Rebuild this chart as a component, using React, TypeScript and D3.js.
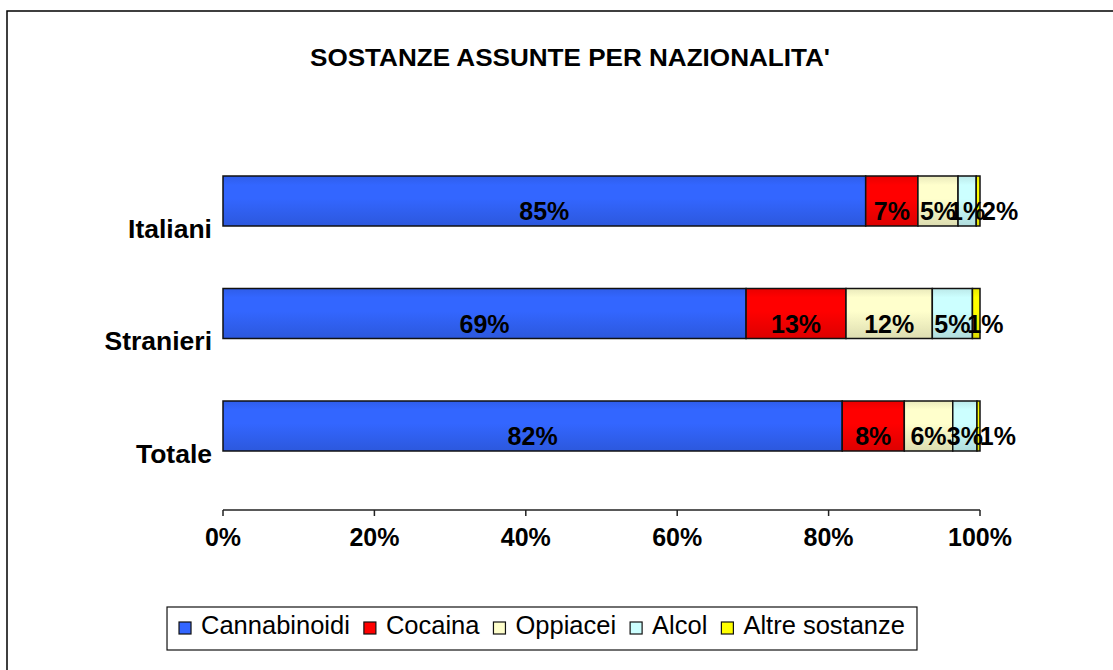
import React, { useEffect, useRef } from "react";
import * as d3 from "d3";

const categories = ["Italiani", "Stranieri", "Totale"];
const seriesNames = ["Cannabinoidi", "Cocaina", "Oppiacei", "Alcol", "Altre sostanze"];
// measured shares (%) per category, same order as seriesNames
const cannabinoidi = [84.9, 69.1, 81.8];
const cocaina = [6.9, 13.2, 8.2];
const oppiacei = [5.3, 11.4, 6.4];
const alcol = [2.4, 5.3, 3.2];
const altre = [0.5, 1.0, 0.4];
// data label texts as printed on the chart
const labelCannabinoidi = ["85%", "69%", "82%"];
const labelCocaina = ["7%", "13%", "8%"];
const labelOppiacei = ["5%", "12%", "6%"];
const labelAlcol = ["1%", "5%", "3%"];
const labelAltre = ["2%", "1%", "1%"];
const xTicks = [0, 20, 40, 60, 80, 100];
const title = "SOSTANZE ASSUNTE PER NAZIONALITA'";

const seriesValues = [cannabinoidi, cocaina, oppiacei, alcol, altre];
const seriesLabels = [labelCannabinoidi, labelCocaina, labelOppiacei, labelAlcol, labelAltre];
const colors = ["#3366ff", "#ff0000", "#ffffcc", "#ccffff", "#ffff00"];

const FONT = "'Liberation Sans', Arial, sans-serif";

export default function App() {
  const ref = useRef<SVGSVGElement | null>(null);

  useEffect(() => {
    const svg = d3.select(ref.current);
    svg.selectAll("*").remove();
    const W = 1113, H = 670;

    const defs = svg.append("defs");
    colors.forEach((c, i) => {
      const base = d3.color(c)!;
      const g = defs.append("linearGradient").attr("id", "g" + i)
        .attr("x1", 0).attr("y1", 0).attr("x2", 0).attr("y2", 1);
      g.append("stop").attr("offset", "0%").attr("stop-color", d3.color(c)!.darker(0.25).toString());
      g.append("stop").attr("offset", "18%").attr("stop-color", base.toString());
      g.append("stop").attr("offset", "45%").attr("stop-color", base.toString());
      g.append("stop").attr("offset", "100%").attr("stop-color", d3.color(c)!.darker(0.4).toString());
    });

    // outer frame
    svg.append("rect").attr("x", 7).attr("y", 11).attr("width", W + 20).attr("height", H + 20)
      .attr("fill", "white").attr("stroke", "black").attr("stroke-width", 1.5);

    svg.append("text").attr("x", 570).attr("y", 66).attr("text-anchor", "middle")
      .attr("font-family", FONT).attr("font-weight", "bold").attr("font-size", 24)
      .attr("textLength", 520).attr("lengthAdjust", "spacingAndGlyphs")
      .text(title);

    const x = d3.scaleLinear().domain([0, 100]).range([223, 980]);
    const y = d3.scaleBand().domain(categories).range([144.75, 482.25]).paddingInner(0.5556).paddingOuter(0.2778);

    // stacked bars
    const stackData = categories.map((c, ci) => {
      const o: any = { cat: c };
      seriesNames.forEach((s, si) => (o[s] = seriesValues[si][ci]));
      return o;
    });
    const stacked = d3.stack().keys(seriesNames)(stackData);

    stacked.forEach((layer, si) => {
      svg.append("g").selectAll("rect").data(layer).join("rect")
        .attr("x", (d: any) => x(d[0]))
        .attr("y", (d: any) => y(d.data.cat)!)
        .attr("width", (d: any) => x(d[1]) - x(d[0]))
        .attr("height", y.bandwidth())
        .attr("fill", `url(#g${si})`)
        .attr("stroke", "#111").attr("stroke-width", 1.5);
    });

    // label centres; the last (tiny) segment label is pushed right of its neighbour, as in the original
    const centers = stacked.map((layer) => layer.map((d: any) => (x(d[0]) + x(d[1])) / 2));
    const last = stacked.length - 1;
    stacked.forEach((layer, si) => {
      svg.append("g").selectAll("text").data(layer).join("text")
        .attr("x", (d: any, i: number) => si === last ? Math.max(centers[si][i], centers[si - 1][i] + 33) : centers[si][i])
        .attr("y", (d: any) => y(d.data.cat)! + y.bandwidth() / 2 + 19)
        .attr("text-anchor", "middle")
        .attr("font-family", FONT).attr("font-weight", "bold").attr("font-size", 25)
        .text((d: any, i: number) => seriesLabels[si][i]);
    });

    // category labels
    svg.append("g").selectAll("text").data(categories).join("text")
      .attr("x", 212).attr("y", (d) => y(d)! + y.bandwidth() + 12)
      .attr("text-anchor", "end")
      .attr("font-family", FONT).attr("font-weight", "bold").attr("font-size", 26.5)
      .text((d) => d);

    // x axis
    const axisY = 510;
    const ax = svg.append("g");
    ax.append("line").attr("x1", x(0)).attr("x2", x(100)).attr("y1", axisY).attr("y2", axisY)
      .attr("stroke", "#222").attr("stroke-width", 1.5);
    ax.selectAll("line.t").data(xTicks).join("line").attr("class", "t")
      .attr("x1", (d) => x(d)).attr("x2", (d) => x(d)).attr("y1", axisY).attr("y2", axisY + 6)
      .attr("stroke", "#222").attr("stroke-width", 1.5);
    ax.selectAll("text").data(xTicks).join("text")
      .attr("x", (d) => x(d)).attr("y", 546).attr("text-anchor", "middle")
      .attr("font-family", FONT).attr("font-weight", "bold").attr("font-size", 25)
      .text((d) => d + "%");

    // legend
    const lg = svg.append("g");
    const items = lg.selectAll("g").data(seriesNames).join("g");
    items.append("rect").attr("width", 12).attr("height", 12)
      .attr("fill", (d, i) => colors[i]).attr("stroke", "#111").attr("stroke-width", 1.2);
    const texts = items.append("text").attr("x", 22).attr("y", 12)
      .attr("font-family", FONT).attr("font-size", 25.5).text((d) => d);
    let cx = 0;
    const widths: number[] = [];
    texts.each(function () { widths.push((this as SVGTextElement).getComputedTextLength()); });
    const offsets: number[] = [];
    widths.forEach((w) => { offsets.push(cx); cx += 22 + w + 14; });
    const total = cx - 14;
    const pad = 12;
    const centerX = 542;
    const startX = centerX - total / 2;
    items.attr("transform", (d, i) => `translate(${startX + offsets[i]},${622})`);
    lg.insert("rect", ":first-child").attr("x", startX - pad).attr("y", 607)
      .attr("width", total + 2 * pad).attr("height", 43)
      .attr("fill", "white").attr("stroke", "#111").attr("stroke-width", 1.2);
  }, []);

  return (
    <svg ref={ref} width={1113} height={670}
      style={{ position: "absolute", left: 0, top: 0, display: "block" }} />
  );
}
